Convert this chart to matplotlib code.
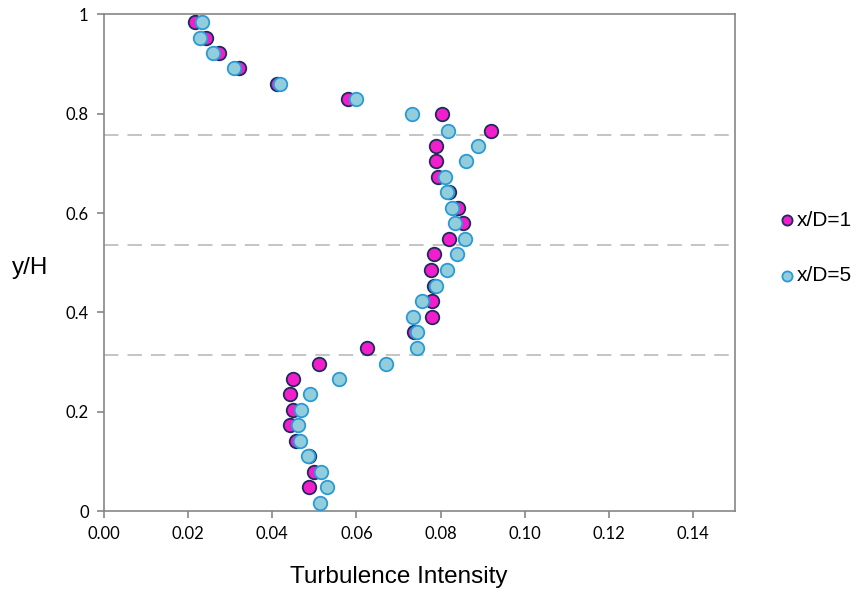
import matplotlib
matplotlib.use('Agg')
import matplotlib.pyplot as plt

# y/H levels (shared by both series)
y_levels = [0.984, 0.953, 0.923, 0.891, 0.860, 0.829, 0.799, 0.766, 0.735, 0.704,
            0.673, 0.643, 0.611, 0.580, 0.548, 0.518, 0.485, 0.454, 0.423, 0.391,
            0.360, 0.329, 0.297, 0.266, 0.236, 0.204, 0.173, 0.142, 0.111, 0.079,
            0.048, 0.017]

# x/D = 1 (31 points, no value at the lowest level)
ti_xd1 = [0.0216, 0.0242, 0.0274, 0.0321, 0.0410, 0.0580, 0.0802, 0.0919, 0.0789, 0.0789,
          0.0793, 0.0819, 0.0841, 0.0852, 0.0820, 0.0784, 0.0778, 0.0784, 0.0780, 0.0780,
          0.0736, 0.0624, 0.0511, 0.0448, 0.0442, 0.0449, 0.0443, 0.0456, 0.0488, 0.0500,
          0.0487]

# x/D = 5
ti_xd5 = [0.0232, 0.0228, 0.0260, 0.0309, 0.0418, 0.0600, 0.0733, 0.0817, 0.0888, 0.0860,
          0.0810, 0.0814, 0.0826, 0.0834, 0.0857, 0.0838, 0.0814, 0.0788, 0.0756, 0.0735,
          0.0743, 0.0743, 0.0671, 0.0559, 0.0489, 0.0468, 0.0462, 0.0466, 0.0485, 0.0515,
          0.0531, 0.0513]

ref_lines = [0.757, 0.536, 0.314]
x_ticks = [0.00, 0.02, 0.04, 0.06, 0.08, 0.10, 0.12, 0.14]
y_ticks = [0, 0.2, 0.4, 0.6, 0.8, 1]
y_tick_labels = ['0', '0.2', '0.4', '0.6', '0.8', '1']

tick_font = ['Lato', 'DejaVu Sans']
label_font = ['Liberation Sans', 'DejaVu Sans']

fig = plt.figure(figsize=(8.59, 5.95), dpi=100)
ax = fig.add_axes([0.121, 0.141, 0.735, 0.835])

for yl in ref_lines:
    ax.axhline(yl, color='#BFBFBF', lw=1.3, dashes=(8, 5), zorder=1)

ax.scatter(ti_xd1, y_levels[:len(ti_xd1)], s=95, c='#F21ECB', edgecolors='#1F2B5C',
           linewidths=1.3, zorder=3, label='x/D=1')
ax.scatter(ti_xd5, y_levels, s=95, c='#92CDDC', edgecolors='#2A9AD6',
           linewidths=1.3, zorder=4, label='x/D=5')

ax.set_xlim(0, 0.15)
ax.set_ylim(0, 1)
ax.set_xticks(x_ticks)
ax.set_xticklabels(['%.2f' % v for v in x_ticks], family=tick_font, fontsize=12)
ax.set_yticks(y_ticks)
ax.set_yticklabels(y_tick_labels, family=tick_font, fontsize=12)
ax.tick_params(direction='out', length=5, color='#868686', width=1.2, pad=6)

for side in ['left', 'bottom', 'top', 'right']:
    ax.spines[side].set_color('#868686')
    ax.spines[side].set_linewidth(1.2)

fig.text(0.464, 0.03, 'Turbulence Intensity', family=label_font, fontsize=17.5,
         ha='center', va='center')
fig.text(0.035, 0.55, 'y/H', family=label_font, fontsize=17.5, ha='center', va='center')

fig.legend(loc='center left', bbox_to_anchor=(0.906, 0.583), frameon=False,
           prop={'family': label_font, 'size': 15}, labelspacing=1.75,
           handlelength=0.8, handletextpad=0.1, markerscale=0.75, borderpad=0,
           borderaxespad=0)

fig.savefig('out.png', dpi=100)
